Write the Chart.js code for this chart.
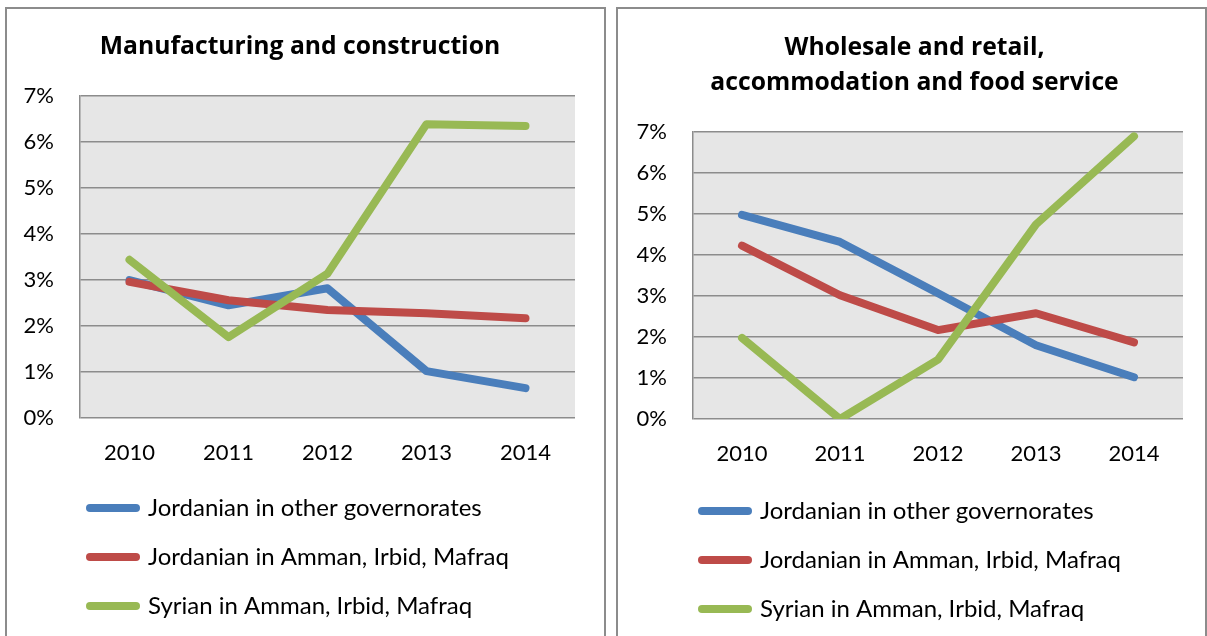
<!DOCTYPE html>
<html>
<head>
<meta charset="utf-8">
<script src="https://cdn.jsdelivr.net/npm/chart.js@4.4.1/dist/chart.umd.min.js"></script>
<style>
    html, body { margin: 0; padding: 0; background: #fff; overflow: hidden; }
    body { width: 1207px; height: 636px; position: relative; }
    .frame { position: absolute; border: 2px solid #8c8c8c; box-sizing: border-box; }
    canvas { position: absolute; }
</style>
</head>
<body>
<div class="frame" style="left:5px; top:7px; width:601px; height:650px;"></div>
<div class="frame" style="left:616px; top:7px; width:591px; height:650px;"></div>
<canvas id="manufChart" width="596" height="635" style="left:7px; top:9px;"></canvas>
<canvas id="tradeChart" width="586" height="638" style="left:618px; top:9px;"></canvas>
<script>
// Shared categories and series names
const years = ['2010', '2011', '2012', '2013', '2014'];
const seriesNames = [
    'Jordanian in other governorates',
    'Jordanian in Amman, Irbid, Mafraq',
    'Syrian in Amman, Irbid, Mafraq'
];
const seriesColors = ['#4a7ebb', '#be4b48', '#98b954'];

// Manufacturing and construction (%)
const manufJordOther = [3.0, 2.45, 2.82, 1.02, 0.65];
const manufJordAIM = [2.96, 2.56, 2.35, 2.28, 2.17];
const manufSyrian = [3.44, 1.76, 3.14, 6.39, 6.35];

// Wholesale and retail, accommodation and food service (%)
const tradeJordOther = [4.98, 4.32, 3.07, 1.8, 1.02];
const tradeJordAIM = [4.23, 3.02, 2.17, 2.58, 1.87];
const tradeSyrian = [1.98, 0.0, 1.45, 4.75, 6.9];

const yMax = 7;
const yStep = 1;

const FONT = 'Lato, "Open Sans", sans-serif';
const TITLE_FONT = '"Open Sans", Lato, sans-serif';

// grey plot background
const plotBackground = {
    id: 'plotBackground',
    beforeDraw(chart) {
        const { ctx, chartArea } = chart;
        ctx.save();
        ctx.fillStyle = '#e6e6e6';
        ctx.fillRect(chartArea.left, chartArea.top, chartArea.right - chartArea.left, chartArea.bottom - chartArea.top);
        ctx.restore();
    }
};

// nudge title and stacked legend sideways
const boxShift = {
    id: 'boxShift',
    afterLayout(chart, args, opts) {
        chart.legend.left += opts.legendDx;
        chart.legend.right += opts.legendDx;
        chart.titleBlock.left += opts.titleDx;
        chart.titleBlock.right += opts.titleDx;
    }
};

function makeChart(canvasId, title, values, lay) {
    const ctx = document.getElementById(canvasId).getContext('2d');
    return new Chart(ctx, {
        type: 'line',
        data: {
            labels: years,
            datasets: values.map((v, i) => ({
                label: seriesNames[i],
                data: v,
                borderColor: seriesColors[i],
                backgroundColor: seriesColors[i],
                borderWidth: 8,
                borderCapStyle: 'round',
                borderJoinStyle: 'round',
                pointRadius: 0,
                pointStyle: 'line',
                tension: 0,
                order: values.length - i
            }))
        },
        options: {
            responsive: false,
            animation: false,
            layout: { padding: { left: 0, right: lay.right, top: 0, bottom: lay.bottom } },
            plugins: {
                title: {
                    display: true,
                    text: title,
                    color: '#000',
                    font: { family: TITLE_FONT, size: 24.7, weight: 'bold', lineHeight: 1.42 },
                    padding: { top: lay.titleTop, bottom: lay.titleBottom }
                },
                legend: {
                    position: 'bottom',
                    align: 'start',
                    labels: {
                        usePointStyle: true,
                        pointStyleWidth: 46,
                        padding: 25,
                        color: '#000',
                        font: { family: FONT, size: 24 },
                        sort: (a, b) => a.datasetIndex - b.datasetIndex,
                        generateLabels: chart => Chart.defaults.plugins.legend.labels.generateLabels(chart)
                            .map(item => Object.assign(item, { lineCap: 'round', lineWidth: 8 }))
                    }
                },
                boxShift: { legendDx: lay.legendDx, titleDx: lay.titleDx },
                tooltip: { enabled: false }
            },
            scales: {
                x: {
                    offset: true,
                    afterFit: s => { s.height = lay.xHeight; },
                    grid: { display: false, drawTicks: false },
                    border: { display: false },
                    ticks: { color: '#000', padding: 22, font: { family: FONT, size: 22 } }
                },
                y: {
                    min: 0,
                    max: yMax,
                    afterFit: s => { s.width = lay.yWidth; },
                    grid: { color: '#8c8c8c', lineWidth: 1.5, drawTicks: false },
                    border: { display: true, color: '#8c8c8c', width: 1.5 },
                    ticks: {
                        stepSize: yStep,
                        padding: 26,
                        color: '#000',
                        font: { family: FONT, size: 22 },
                        callback: v => v + '%'
                    }
                }
            }
        },
        plugins: [plotBackground, boxShift]
    });
}

makeChart('manufChart', 'Manufacturing and construction',
    [manufJordOther, manufJordAIM, manufSyrian],
    { right: 28, bottom: 16, titleTop: 20, titleBottom: 32, xHeight: 53, yWidth: 73, legendDx: 58, titleDx: 9 });

makeChart('tradeChart', ['Wholesale and retail,', 'accommodation and food service'],
    [tradeJordOther, tradeJordAIM, tradeSyrian],
    { right: 21, bottom: 16, titleTop: 21, titleBottom: 32, xHeight: 55, yWidth: 75, legendDx: 59, titleDx: 14 });
</script>
</body>
</html>
